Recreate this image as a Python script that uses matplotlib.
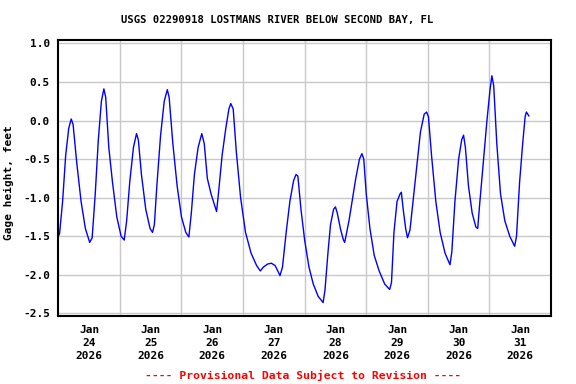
import matplotlib
matplotlib.use("Agg")
import matplotlib.pyplot as plt
import numpy as np
import pandas as pd

title = "USGS 02290918 LOSTMANS RIVER BELOW SECOND BAY, FL"
ylabel = "Gage height, feet"
footer = "---- Provisional Data Subject to Revision ----"

# days after 2026-01-24 00:00, gage height in feet
days = [0.00, 0.02, 0.07, 0.12, 0.17, 0.21, 0.24, 0.30, 0.37, 0.44,
        0.51, 0.55, 0.60, 0.65, 0.70, 0.74, 0.77, 0.82, 0.88, 0.95,
        1.02, 1.07, 1.11, 1.16, 1.22, 1.27, 1.30, 1.35, 1.42, 1.49,
        1.53, 1.56, 1.60, 1.66, 1.72, 1.77, 1.80, 1.86, 1.93, 2.00,
        2.07, 2.12, 2.16, 2.21, 2.27, 2.33, 2.37, 2.42, 2.48, 2.53,
        2.57, 2.60, 2.66, 2.72, 2.77, 2.80, 2.84, 2.89, 2.96, 3.04,
        3.13, 3.22, 3.28, 3.33, 3.40, 3.46, 3.52, 3.58, 3.60, 3.64,
        3.70, 3.76, 3.82, 3.86, 3.89, 3.94, 4.00, 4.07, 4.14, 4.22,
        4.30, 4.33, 4.38, 4.42, 4.47, 4.50, 4.53, 4.58, 4.63, 4.65,
        4.67, 4.72, 4.77, 4.83, 4.89, 4.93, 4.96, 5.00, 5.06, 5.13,
        5.21, 5.30, 5.38, 5.41, 5.45, 5.50, 5.55, 5.57, 5.60, 5.64,
        5.67, 5.71, 5.76, 5.82, 5.88, 5.94, 5.98, 6.01, 6.06, 6.13,
        6.20, 6.28, 6.36, 6.39, 6.44, 6.50, 6.55, 6.58, 6.61, 6.66,
        6.72, 6.78, 6.81, 6.84, 6.90, 6.96, 7.01, 7.04, 7.07, 7.12,
        7.18, 7.25, 7.33, 7.41, 7.44, 7.49, 7.54, 7.58, 7.60, 7.64]
height = [-1.50, -1.47, -1.05, -0.45, -0.10, 0.02, -0.05, -0.55, -1.05, -1.40,
          -1.58, -1.52, -0.95, -0.25, 0.25, 0.41, 0.30, -0.35, -0.80, -1.25,
          -1.50, -1.55, -1.30, -0.80, -0.35, -0.17, -0.25, -0.70, -1.15, -1.40,
          -1.45, -1.35, -0.85, -0.20, 0.25, 0.40, 0.30, -0.30, -0.85, -1.25,
          -1.45, -1.51, -1.20, -0.70, -0.35, -0.17, -0.30, -0.75, -0.95, -1.08,
          -1.18, -0.95, -0.45, -0.10, 0.15, 0.22, 0.15, -0.40, -1.00, -1.45,
          -1.72, -1.88, -1.95, -1.90, -1.86, -1.85, -1.88, -1.98, -2.01, -1.90,
          -1.45, -1.05, -0.78, -0.70, -0.72, -1.15, -1.55, -1.90, -2.12, -2.28,
          -2.36, -2.20, -1.70, -1.35, -1.15, -1.12, -1.20, -1.40, -1.55, -1.58,
          -1.50, -1.30, -1.05, -0.75, -0.50, -0.43, -0.50, -0.95, -1.40, -1.75,
          -1.95, -2.12, -2.19, -2.10, -1.45, -1.05, -0.95, -0.93, -1.15, -1.40,
          -1.52, -1.42, -1.05, -0.60, -0.15, 0.08, 0.11, 0.05, -0.45, -1.05,
          -1.45, -1.72, -1.87, -1.70, -1.05, -0.50, -0.25, -0.19, -0.35, -0.85,
          -1.20, -1.38, -1.40, -1.10, -0.55, 0.00, 0.40, 0.58, 0.45, -0.30,
          -0.95, -1.30, -1.50, -1.63, -1.50, -0.80, -0.30, 0.05, 0.11, 0.06]

start = pd.Timestamp("2026-01-24")
times = start + pd.to_timedelta(days, unit="D")

mono = "DejaVu Sans Mono"

fig = plt.figure(figsize=(5.76, 3.84), dpi=100)
ax = fig.add_axes([0.1012, 0.1779, 0.8554, 0.7192])

ax.plot(times, height, color="#0000ff", lw=1.0)

ax.set_xlim(start, start + pd.Timedelta(days=8))
ax.set_ylim(-2.53, 1.05)
yt = np.arange(-2.5, 1.01, 0.5)
ax.set_yticks(yt)
ax.set_yticklabels(["%.1f" % v for v in yt])

# labels at noon, gridlines at midnight
noon = [start + pd.Timedelta(days=d, hours=12) for d in range(8)]
midnight = [start + pd.Timedelta(days=d) for d in range(1, 8)]
ax.set_xticks(noon)
ax.set_xticklabels([t.strftime("%b\n%d\n%Y") for t in noon])
ax.set_xticks(midnight, minor=True)

ax.grid(False)
ax.grid(True, which="minor", axis="x", color="#c8c8c8", lw=1)
ax.grid(True, which="major", axis="y", color="#c8c8c8", lw=1)
ax.set_axisbelow(True)

ax.tick_params(axis="both", which="both", length=0)
ax.tick_params(axis="y", pad=6)
ax.tick_params(axis="x", pad=7)
for lab in ax.get_xticklabels() + ax.get_yticklabels():
    lab.set_fontfamily(mono)
    lab.set_fontweight("bold")
    lab.set_fontsize(8)
for lab in ax.get_xticklabels():
    lab.set_linespacing(1.35)

for s in ax.spines.values():
    s.set_linewidth(1.5)
    s.set_color("black")

ax.set_ylabel(ylabel, fontfamily=mono, fontweight="bold", fontsize=8)
ax.yaxis.set_label_coords(-0.09, 0.48)
fig.text(0.482, 0.948, title, ha="center", va="center",
         fontfamily=mono, fontweight="bold", fontsize=7.6)
fig.text(0.527, 0.023, footer, ha="center", va="center", color="red",
         fontfamily=mono, fontweight="bold", fontsize=8.2)

fig.savefig("out.png", dpi=100)
